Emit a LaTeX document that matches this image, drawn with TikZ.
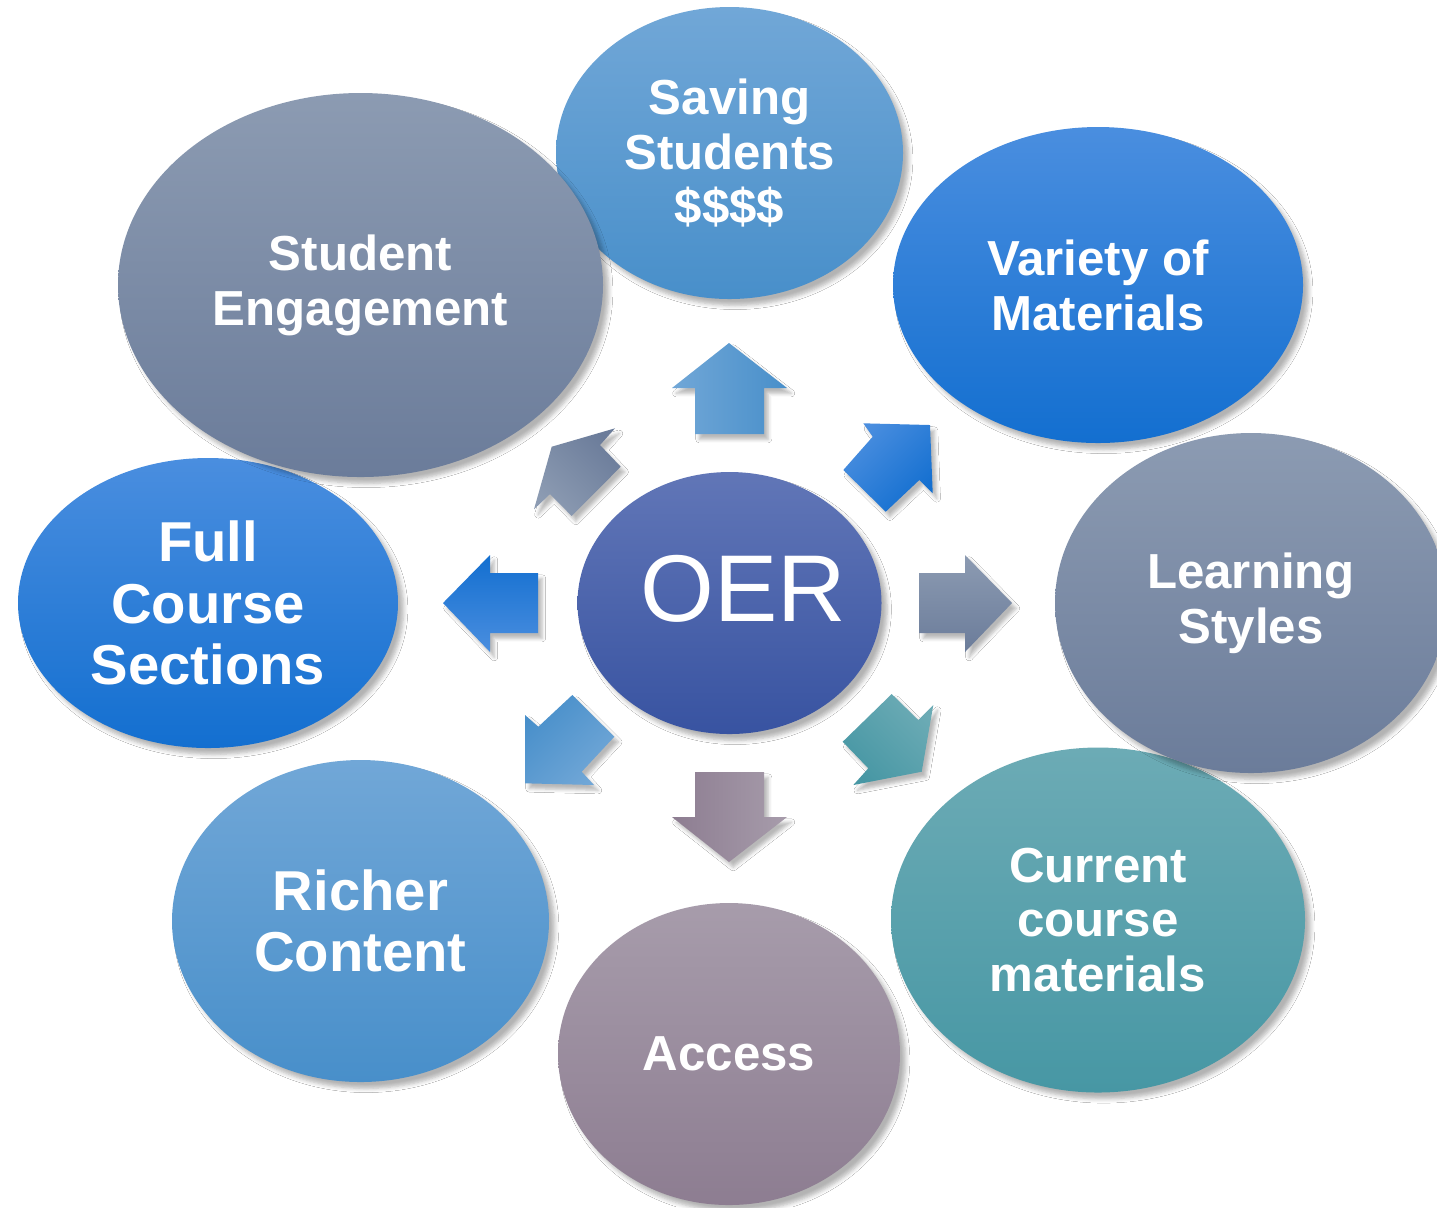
\documentclass[tikz,border=0pt]{standalone}
\usepackage{fontspec}
\setmainfont{Liberation Sans}
\usetikzlibrary{shapes.geometric,shadows.blur}
\definecolor{lblueT}{RGB}{113,167,215}
\definecolor{lblueB}{RGB}{72,143,202}
\definecolor{bblueT}{RGB}{74,142,223}
\definecolor{bblueB}{RGB}{19,111,208}
\definecolor{slateT}{RGB}{140,155,178}
\definecolor{slateB}{RGB}{107,124,154}
\definecolor{tealT}{RGB}{108,171,181}
\definecolor{tealB}{RGB}{71,151,164}
\definecolor{mauveT}{RGB}{167,156,171}
\definecolor{mauveB}{RGB}{141,125,145}
\definecolor{oerT}{RGB}{97,118,183}
\definecolor{oerB}{RGB}{56,83,161}
\begin{document}
\begin{tikzpicture}[x=0.1mm,y=-0.1mm,
  bubble/.style={ellipse, inner sep=0pt, text=white, align=center,
    blur shadow={shadow xshift=1.6pt, shadow yshift=-1.8pt, shadow blur steps=5, shadow blur radius=1.2pt, shadow opacity=30}},
  labA/.style={font=\bfseries\fontsize{14}{15.6}\selectfont},
  labB/.style={font=\bfseries\fontsize{16}{17.4}\selectfont},
  arrowshape/.style={draw=none,
    blur shadow={shadow xshift=1.2pt, shadow yshift=-1.5pt, shadow blur steps=4, shadow blur radius=1pt, shadow opacity=28}},
  lbluefill/.style={top color=lblueT, bottom color=lblueB},
  bbluefill/.style={top color=bblueT, bottom color=bblueB},
  slatefill/.style={top color=slateT, bottom color=slateB},
  tealfill/.style={top color=tealT, bottom color=tealB},
  mauvefill/.style={top color=mauveT, bottom color=mauveB},
  oerfill/.style={top color=oerT, bottom color=oerB}
]
\useasboundingbox (0,0) rectangle (1437,1207);
\fill[white] (0,0) rectangle (1437,1207);

% outer bubbles
\node[bubble, labA, mauvefill, minimum width=3.42cm, minimum height=3.02cm] (access) at (729,1054) {Access};
\node[bubble, labA, tealfill, minimum width=4.14cm, minimum height=3.45cm] (current) at (1098,920) {Current\\course\\materials};
\node[bubble, labA, slatefill, minimum width=3.92cm, minimum height=3.40cm] (learning) at (1251,603) {Learning\\Styles};
\node[bubble, labA, bbluefill, minimum width=4.10cm, minimum height=3.16cm] (variety) at (1098,285) {Variety of\\Materials};
\node[bubble, labA, lbluefill, minimum width=3.47cm, minimum height=2.92cm] (saving) at (729.5,153) {Saving\\Students\\\$\$\$\$};
\node[bubble, labB, lbluefill, minimum width=3.77cm, minimum height=3.22cm] (richer) at (360.5,921) {Richer\\Content};
\node[bubble, labB, bbluefill, minimum width=3.80cm, minimum height=2.90cm] (full) at (208,603) {Full\\Course\\Sections};
\node[bubble, labA, slatefill, minimum width=4.85cm, minimum height=3.84cm] (engage) at (360.5,285) {Student\\Engagement};

% centre
\node[bubble, oerfill, minimum width=3.04cm, minimum height=2.62cm] (oer) at (729.5,603) {};
\node[text=white, font=\fontsize{27}{30}\selectfont, inner sep=0pt] (oertext) at (743,589) {OER};

% arrows
% up
\path[arrowshape, lbluefill, shading angle=90] (729,343) -- (787,388) -- (764,388) -- (764,434) -- (695,434) -- (695,388) -- (672,388) -- cycle;
% north-east
\path[arrowshape, bbluefill, shading angle=45] (930,425) -- (932.7,493.3) -- (919.3,480) -- (885.7,511.7) -- (843.3,470) -- (872.7,436.7) -- (863.3,423.3) -- cycle;
% right
\path[arrowshape, slatefill, shading angle=0] (1012,603) -- (965,652) -- (965,633) -- (919,633) -- (919,573) -- (965,573) -- (965,555) -- cycle;
% south-east
\path[arrowshape, tealfill, shading angle=-45] (921.7,771.7) -- (853.3,785) -- (868.3,768.3) -- (842.7,741.7) -- (891.7,694) -- (918.3,720) -- (933.3,705) -- cycle;
% down
\path[arrowshape, mauvefill, shading angle=-90] (729,862) -- (672,817) -- (695,817) -- (695,772) -- (764,772) -- (764,817) -- (787,817) -- cycle;
% south-west
\path[arrowshape, lbluefill, shading angle=225] (525,783.3) -- (525,715) -- (538.3,726.7) -- (572.3,695) -- (614.3,736.7) -- (581.7,771.7) -- (594,785) -- cycle;
% left
\path[arrowshape, bbluefill, shading angle=180] (443,603) -- (490,555) -- (490,573) -- (538,573) -- (538,633) -- (490,633) -- (490,652) -- cycle;
% north-west
\path[arrowshape, slatefill, shading angle=135] (551.7,446.7) -- (615,428.3) -- (600,445) -- (620.7,466.7) -- (571.7,516) -- (550,494) -- (534,509.3) -- cycle;
\end{tikzpicture}
\end{document}
